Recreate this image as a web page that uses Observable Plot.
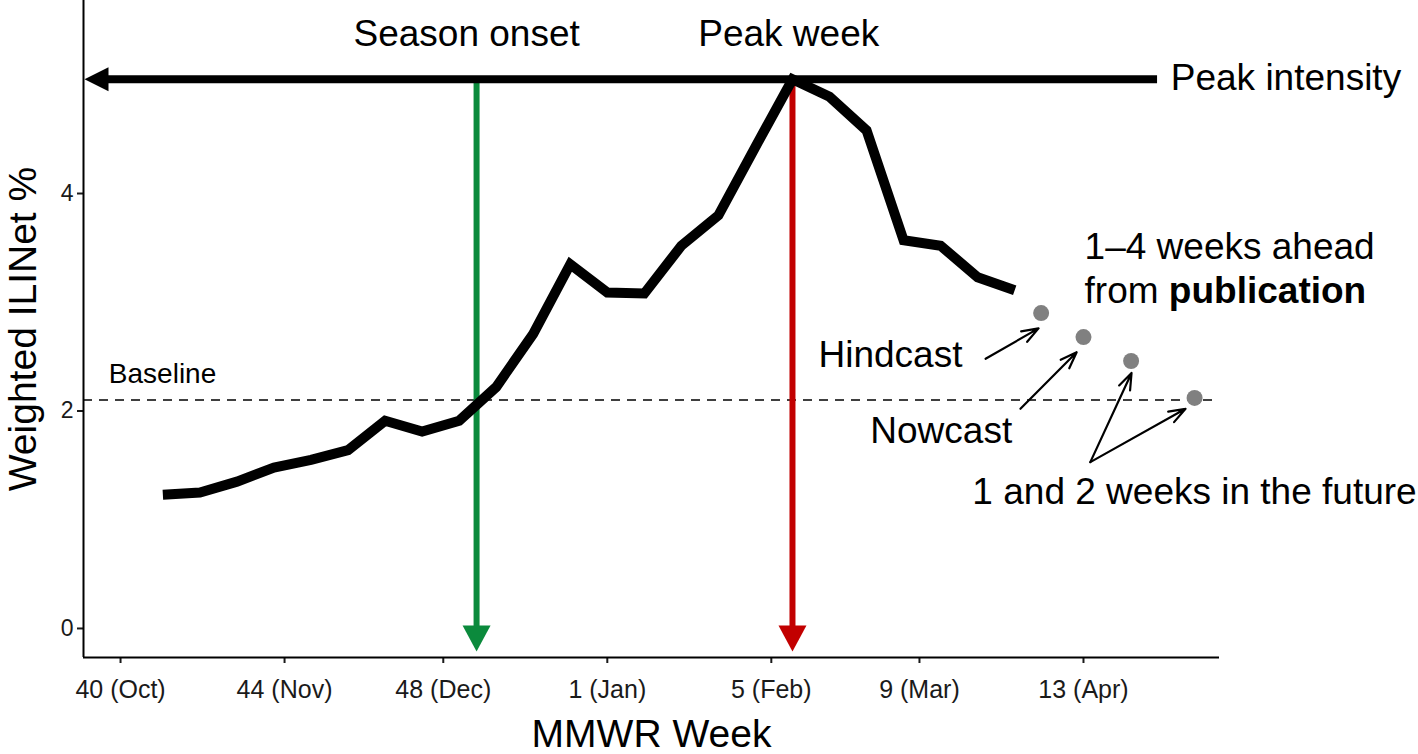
<!DOCTYPE html>
<html>
<head>
<meta charset="utf-8">
<script src="https://cdn.jsdelivr.net/npm/d3@7"></script>
<script src="https://cdn.jsdelivr.net/npm/@observablehq/plot@0.6"></script>
<style>
  html, body { margin: 0; padding: 0; background: #fff; }
</style>
</head>
<body>
<div id="chart"></div>
<script>
// ---- Data ----
const weekDates = [
  "2016-10-09","2016-10-16","2016-10-23","2016-10-30",
  "2016-11-06","2016-11-13","2016-11-20","2016-11-27",
  "2016-12-04","2016-12-11","2016-12-18","2016-12-25",
  "2017-01-01","2017-01-08","2017-01-15","2017-01-22","2017-01-29",
  "2017-02-05","2017-02-12","2017-02-19","2017-02-26",
  "2017-03-05","2017-03-12","2017-03-19"
];
const iliValues = [
  1.23, 1.25, 1.35, 1.48, 1.55, 1.64, 1.91, 1.81,
  1.91, 2.22, 2.71, 3.35, 3.09, 3.08, 3.52, 3.80, 4.43,
  5.05, 4.89, 4.58, 3.57, 3.52, 3.23, 3.11
];
const forecastDates = ["2017-03-24", "2017-04-01", "2017-04-10", "2017-04-22"];
const forecastValues = [2.90, 2.68, 2.46, 2.12];

const baselineValue = 2.1;
const peakIntensity = 5.05;
const onsetDate = "2016-12-07T07:00Z";
const peakWeekDate = "2017-02-05";
const intensityArrowEnd = "2017-04-15";

const tickDates = ["2016-10-01","2016-11-01","2016-12-01","2017-01-01","2017-02-01","2017-03-01","2017-04-01"];
const tickLabels = ["40 (Oct)","44 (Nov)","48 (Dec)","1 (Jan)","5 (Feb)","9 (Mar)","13 (Apr)"];
const yTicks = [0, 2, 4];
const yTickLabels = ["0", "2", "4"];
const xDomain = ["2016-09-24", "2017-04-26T17:00Z"];
const yDomain = [-0.267, 5.775];

// annotation arrows (data units)
const arrowFromDates = ["2017-03-13T12:00Z", "2017-03-20T02:00Z", "2017-04-02T07:00Z", "2017-04-02T07:00Z"];
const arrowFromValues = [2.48, 2.02, 1.53, 1.53];
const arrowToDates = ["2017-03-23T12:00Z", "2017-03-30T17:00Z", "2017-04-10T02:00Z", "2017-04-20T07:00Z"];
const arrowToValues = [2.76, 2.54, 2.35, 2.02];

// annotation texts
const topLabels = ["Season onset", "Peak week"];
const topLabelDates = ["2016-12-05T10:00Z", "2017-02-04T07:00Z"];
const topLabelValues = [5.47, 5.47];

const noteTexts = ["Peak intensity", "1\u20134 weeks ahead", "from", "Hindcast", "Nowcast", "1 and 2 weeks in the future"];
const noteDates = ["2017-04-17T12:00Z", "2017-04-01T05:00Z", "2017-04-01T05:00Z", "2017-02-09T22:00Z", "2017-02-19T17:00Z", "2017-03-11"];
const noteValues = [5.065, 3.51, 3.106, 2.518, 1.819, 1.258];
const boldText = "publication";

const baselineLabel = "Baseline";
const baselineLabelDate = "2016-09-28T19:00Z";
const baselineLabelValue = 2.336;

const xTitle = "MMWR Week";
const yTitle = "Weighted ILINet %";

// ---- Build ----
const parse = s => new Date(s);
const FONT = "'Liberation Sans', Arial, Helvetica, sans-serif";
const GREEN = "#0b8a3c";
const RED = "#c20000";
const NOTE_SIZE = 37;

const series = weekDates.map((d, i) => ({date: parse(d), value: iliValues[i]}));
const forecasts = forecastDates.map((d, i) => ({date: parse(d), value: forecastValues[i]}));
const arrows = arrowFromDates.map((d, i) => ({
  x1: parse(d), y1: arrowFromValues[i], x2: parse(arrowToDates[i]), y2: arrowToValues[i]
}));
const tops = topLabels.map((t, i) => ({text: t, date: parse(topLabelDates[i]), value: topLabelValues[i]}));
const notes = noteTexts.map((t, i) => ({text: t, date: parse(noteDates[i]), value: noteValues[i]}));
const labelByTime = new Map(tickDates.map((d, i) => [+parse(d), tickLabels[i]]));
const yLabelByValue = new Map(yTicks.map((v, i) => [v, yTickLabels[i]]));
const xStart = parse(xDomain[0]);

// width of "from " to place the bold word after it
const ctx = document.createElement("canvas").getContext("2d");
ctx.font = `${NOTE_SIZE}px ${FONT}`;
const fromWidth = ctx.measureText("from ").width;

// filled arrowheads (tip at origin)
const headDown = {draw(c) { c.moveTo(-14, -26); c.lineTo(14, -26); c.lineTo(0, 0); c.closePath(); }};
const headLeft = {draw(c) { c.moveTo(0, 0); c.lineTo(24, -12); c.lineTo(24, 12); c.closePath(); }};

const chart = Plot.plot({
  width: 1418,
  height: 754,
  marginLeft: 83,
  marginRight: 199,
  marginTop: 0,
  marginBottom: 97,
  style: {fontFamily: FONT, background: "#fff", color: "#000", overflow: "visible"},
  x: {type: "utc", domain: xDomain.map(parse)},
  y: {domain: yDomain},
  marks: [
    Plot.axisX({ticks: tickDates.map(parse), tickFormat: d => labelByTime.get(+d), tickSize: 6, tickPadding: 17,
      fontSize: 25, label: null, color: "#1a1a1a", strokeWidth: 2}),
    Plot.axisY({ticks: yTicks, tickFormat: v => yLabelByValue.get(v), tickSize: 6, tickPadding: 4, fontSize: 23,
      label: null, color: "#1a1a1a", strokeWidth: 2}),
    Plot.ruleX([xStart], {x: d => d, stroke: "#000", strokeWidth: 2}),
    Plot.ruleY([yDomain[0]], {y: d => d, stroke: "#000", strokeWidth: 2}),

    // baseline
    Plot.ruleY([baselineValue], {y: d => d, stroke: "#000", strokeWidth: 1.5, strokeDasharray: "9,7"}),
    Plot.text([baselineLabel], {x: () => parse(baselineLabelDate), y: () => baselineLabelValue, text: d => d,
      textAnchor: "start", fontSize: 28, fill: "#000"}),

    // season onset (green) and peak week (red) arrows
    Plot.ruleX([parse(onsetDate)], {x: d => d, y1: () => peakIntensity, y2: () => yDomain[0], stroke: GREEN, strokeWidth: 6, insetBottom: 28}),
    Plot.dot([parse(onsetDate)], {x: d => d, y: () => yDomain[0], symbol: headDown, fill: GREEN, stroke: "none", dy: -6}),
    Plot.ruleX([parse(peakWeekDate)], {x: d => d, y1: () => peakIntensity, y2: () => yDomain[0], stroke: RED, strokeWidth: 6, insetBottom: 28}),
    Plot.dot([parse(peakWeekDate)], {x: d => d, y: () => yDomain[0], symbol: headDown, fill: RED, stroke: "none", dy: -6}),

    // peak intensity arrow
    Plot.ruleY([peakIntensity], {y: d => d, x1: () => xStart, x2: () => parse(intensityArrowEnd), stroke: "#000", strokeWidth: 8, insetLeft: 18}),
    Plot.dot([peakIntensity], {x: () => xStart, y: d => d, symbol: headLeft, fill: "#000", stroke: "none", dx: 1}),

    // ILINet curve
    Plot.line(series, {x: "date", y: "value", stroke: "#000", strokeWidth: 10, strokeLinejoin: "miter", strokeLinecap: "butt", strokeMiterlimit: 4}),

    // forecast targets
    Plot.dot(forecasts, {x: "date", y: "value", r: 8, fill: "#808080", stroke: "none"}),

    // annotation arrows
    Plot.arrow(arrows, {x1: "x1", y1: "y1", x2: "x2", y2: "y2", stroke: "#000", strokeWidth: 2.2, headLength: 12, headAngle: 40}),

    // texts
    Plot.text(tops, {x: "date", y: "value", text: "text", textAnchor: "middle", fontSize: NOTE_SIZE, fill: "#000"}),
    Plot.text(notes, {x: "date", y: "value", text: "text", textAnchor: "start", fontSize: NOTE_SIZE, fill: "#000"}),
    Plot.text([boldText], {x: () => notes[2].date, y: () => notes[2].value, text: d => d, textAnchor: "start",
      fontSize: NOTE_SIZE, fontWeight: "bold", fill: "#000", dx: fromWidth}),

    // axis titles
    Plot.text([xTitle], {frameAnchor: "bottom", text: d => d, textAnchor: "middle", lineAnchor: "middle", dy: 77, fontSize: 39, fill: "#000"}),
    Plot.text([yTitle], {frameAnchor: "left", text: d => d, textAnchor: "middle", lineAnchor: "middle", dx: -60, rotate: -90, fontSize: 39, fill: "#000"})
  ]
});
document.getElementById("chart").appendChild(chart);
</script>
</body>
</html>
